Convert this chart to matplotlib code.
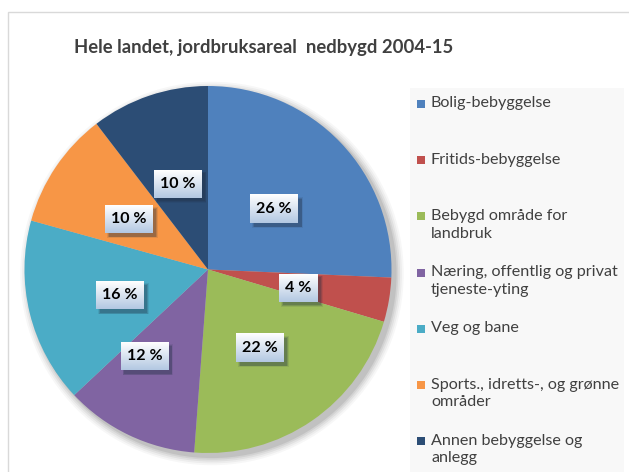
import numpy as np
import matplotlib
matplotlib.use("Agg")
import matplotlib.pyplot as plt
from matplotlib.patches import Rectangle, Circle
from matplotlib.colors import LinearSegmentedColormap

plt.rcParams['font.family'] = ['Lato', 'DejaVu Sans']

title = "Hele landet, jordbruksareal  nedbygd 2004-15"
categories = ["Bolig-bebyggelse", "Fritids-bebyggelse", "Bebygd område for\nlandbruk",
              "Næring, offentlig og privat\ntjeneste-yting", "Veg og bane",
              "Sports., idretts-, og grønne\nområder", "Annen bebyggelse og\nanlegg"]
values = [25.7, 3.9, 21.6, 11.8, 16.3, 10.3, 10.4]
colors = ["#4F81BD", "#C0504D", "#9BBB59", "#8064A2", "#4BACC6", "#F79646", "#2C4D75"]

W, H = 629, 472
fig = plt.figure(figsize=(W / 100, H / 100), dpi=100)
fig.patch.set_facecolor("white")

# frame
fig.add_artist(Rectangle((8 / W, -0.1), 1.2, (H - 12) / H + 0.1, transform=fig.transFigure,
                         facecolor="white", edgecolor="#d9d9d9", lw=1.0, zorder=0))
# legend background
fig.add_artist(Rectangle((410 / W, 0), (624 - 410) / W, (H - 88) / H, transform=fig.transFigure,
                         facecolor="#f8f8f8", edgecolor="none", zorder=0.5))

fig.text(264 / W, 1 - 48 / H, title, ha="center", va="center", fontsize=13.3,
         fontweight="bold", color="#404040")

# pie axes
cx, cy, R = 208, 269.5, 183.5
S = 400
ax = fig.add_axes([(cx - S / 2) / W, (H - cy - S / 2) / H, S / W, S / H])
lim = (S / 2) / R
ax.set_xlim(-lim, lim)
ax.set_ylim(-lim, lim)
ax.set_aspect("equal")
ax.axis("off")

# soft shadow
for dr, a in [(0.045, 0.03), (0.035, 0.04), (0.025, 0.05), (0.015, 0.06), (0.006, 0.08)]:
    ax.add_patch(Circle((4 / R, -4 / R), 1 + dr, facecolor="black", alpha=a, edgecolor="none", zorder=1))

wedges, texts, autotexts = ax.pie(values, colors=colors, startangle=90, counterclock=False,
                                  radius=1.0, autopct="%.0f %%", pctdistance=0.5,
                                  wedgeprops=dict(linewidth=0, zorder=2),
                                  textprops=dict(fontsize=11.5, fontweight="bold", color="black"))
# small pixel nudges of label boxes (Excel "best fit" placement)
label_nudge_px = [(0, -3), (0, -3), (0, -3), (-24, -4), (1, -4), (-3, -1), (-1, -1)]
for t, (dx, dy) in zip(autotexts, label_nudge_px):
    x, y = t.get_position()
    t.set_position((x + dx / R, y + dy / R))
    t.set_zorder(6)
ax.set_xlim(-lim, lim)
ax.set_ylim(-lim, lim)

fig.canvas.draw()
renderer = fig.canvas.get_renderer()
cmap = LinearSegmentedColormap.from_list("lbl", ["#ffffff", "#b3c8e2"])
grad = np.linspace(0, 1, 64).reshape(-1, 1)
inv = ax.transData.inverted()
for t in autotexts:
    bb = t.get_window_extent(renderer)
    mx, my = (bb.x0 + bb.x1) / 2, (bb.y0 + bb.y1) / 2
    bw, bh = bb.width + 12, 28
    x0, y0 = inv.transform((mx - bw / 2, my - bh / 2))
    x1, y1 = inv.transform((mx + bw / 2, my + bh / 2))
    off = 3.5 / R
    for k, a in [(1.0, 0.10), (0.5, 0.18), (0.0, 0.22)]:
        e = k * 1.5 / R
        ax.add_patch(Rectangle((x0 + off - e, y0 - off - e), x1 - x0 + 2 * e, y1 - y0 + 2 * e,
                               facecolor="#1f2d40", alpha=a, edgecolor="none", zorder=4))
    ax.imshow(grad, cmap=cmap, extent=(x0, x1, y0, y1), origin="upper", zorder=5, aspect="auto")
ax.set_xlim(-lim, lim)
ax.set_ylim(-lim, lim)
ax.set_aspect("equal")

# legend (manual, Excel-style: fixed pitch, marker aligned with first line)
top = 104
pitch = 56.2
for i, (lab, col) in enumerate(zip(categories, colors)):
    y = top + i * pitch
    fig.add_artist(Rectangle((417 / W, 1 - (y + 4) / H), 8 / W, 8 / H, transform=fig.transFigure,
                             facecolor=col, edgecolor="none", zorder=2))
    fig.text(431 / W, 1 - (y - 7.5) / H, lab, ha="left", va="top", fontsize=11.6,
             color="#404040", linespacing=1.33)

fig.savefig("out.png", dpi=100)
